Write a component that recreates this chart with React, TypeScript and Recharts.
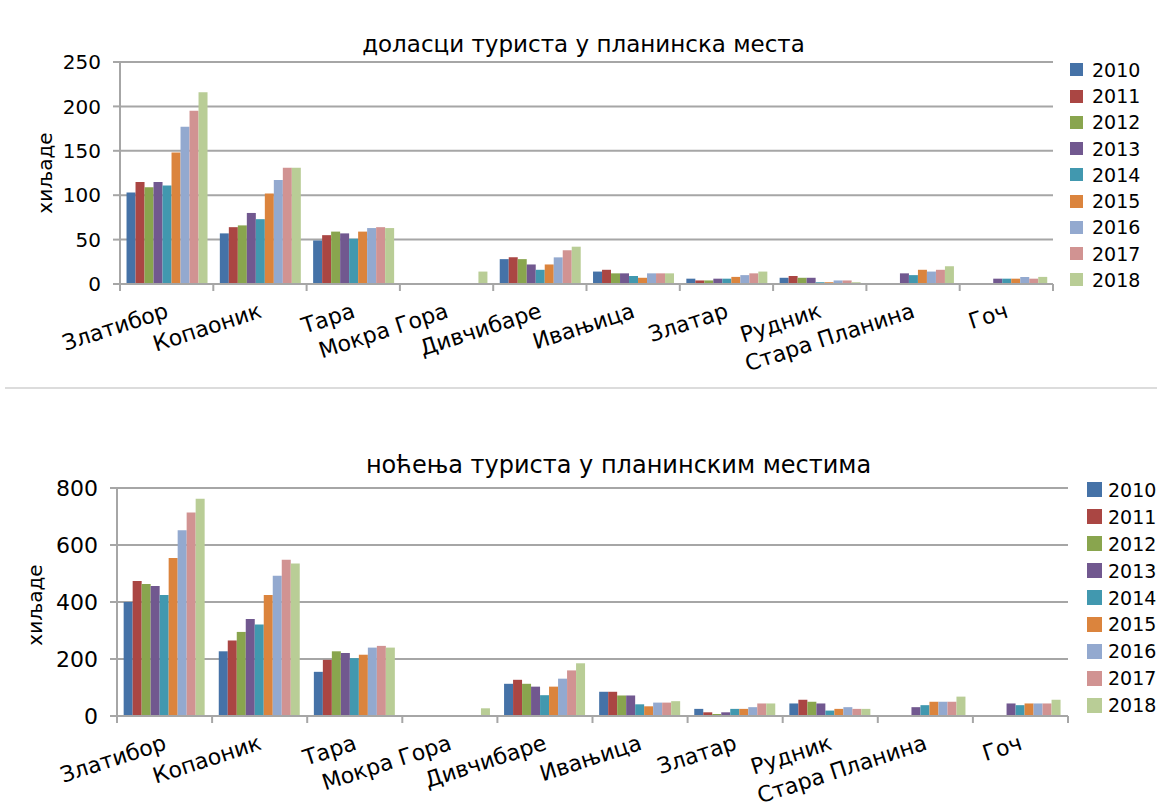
import React from "react";
import { BarChart, Bar, XAxis, YAxis, CartesianGrid } from "recharts";

const places = [
  "Златибор",
  "Копаоник",
  "Тара",
  "Мокра Гора",
  "Дивчибаре",
  "Ивањица",
  "Златар",
  "Рудник",
  "Стара Планина",
  "Гоч",
];

const years = ["2010", "2011", "2012", "2013", "2014", "2015", "2016", "2017", "2018"];
const colors = ["#4572A7", "#AA4643", "#89A54E", "#71588F", "#4198AF", "#DB843D", "#93A9CF", "#D19392", "#B9CD96"];

// доласци (хиљаде)
const arrivals2010 = [103, 57, 49, null, 28, 14, 6, 7, null, null];
const arrivals2011 = [115, 64, 55, null, 30, 16, 4, 9, null, null];
const arrivals2012 = [109, 66, 59, null, 28, 12, 4, 7, null, null];
const arrivals2013 = [115, 80, 57, null, 22, 12, 6, 7, 12, 6];
const arrivals2014 = [111, 73, 51, null, 16, 9, 6, 2, 10, 6];
const arrivals2015 = [148, 102, 59, null, 22, 7, 8, 2, 16, 6];
const arrivals2016 = [177, 117, 63, null, 30, 12, 10, 4, 14, 8];
const arrivals2017 = [195, 131, 64, null, 38, 12, 12, 4, 16, 6];
const arrivals2018 = [216, 131, 63, 14, 42, 12, 14, 2, 20, 8];

// ноћења (хиљаде)
const nights2010 = [400, 227, 155, null, 113, 85, 25, 44, null, null];
const nights2011 = [474, 265, 197, null, 127, 85, 13, 57, null, null];
const nights2012 = [463, 295, 227, null, 113, 72, 7, 50, null, null];
const nights2013 = [456, 340, 221, null, 103, 72, 13, 44, 31, 44];
const nights2014 = [425, 321, 203, null, 73, 41, 25, 19, 38, 38];
const nights2015 = [554, 425, 215, null, 103, 34, 25, 25, 50, 44];
const nights2016 = [652, 492, 240, null, 131, 47, 31, 31, 50, 44];
const nights2017 = [714, 548, 246, null, 160, 47, 44, 25, 50, 44];
const nights2018 = [762, 535, 240, 27, 185, 52, 44, 25, 68, 57];

const arrivalTicks = [0, 50, 100, 150, 200, 250];
const nightTicks = [0, 200, 400, 600, 800];

const arrivalSeries = [arrivals2010, arrivals2011, arrivals2012, arrivals2013, arrivals2014, arrivals2015, arrivals2016, arrivals2017, arrivals2018];
const nightSeries = [nights2010, nights2011, nights2012, nights2013, nights2014, nights2015, nights2016, nights2017, nights2018];

const toRows = (series: (number | null)[][]) =>
  places.map((place, i) => {
    const row: any = { place };
    years.forEach((y, k) => {
      row["y" + y] = series[k][i];
    });
    return row;
  });

const FONT = "'DejaVu Sans', sans-serif";
const GRID = "#a6a6a6";

const CategoryTick = (props: any) => {
  const { x, y, payload, index, bw, fontSize } = props;
  const left = x - bw / 2;
  return (
    <g>
      <line x1={left} x2={left} y1={y} y2={y + 7} stroke={GRID} strokeWidth={2} />
      {index === places.length - 1 && (
        <line x1={x + bw / 2} x2={x + bw / 2} y1={y} y2={y + 7} stroke={GRID} strokeWidth={2} />
      )}
      <text
        transform={`translate(${x + 3},${y + 33}) rotate(-18)`}
        textAnchor="end"
        fontSize={fontSize}
        fontFamily={FONT}
        fill="#000"
      >
        {payload.value}
      </text>
    </g>
  );
};

interface PanelProps {
  top: number;
  height: number;
  title: string;
  titleY: number;
  titleSize: number;
  series: (number | null)[][];
  ticks: number[];
  plot: { left: number; right: number; top: number; bottom: number };
  tickSize: number;
  labelX: number;
  labelY: number;
  legend: { x: number; y: number; step: number; box: number; size: number; gap: number };
}

const Panel = ({ top, height, title, titleY, titleSize, series, ticks, plot, tickSize, labelX, labelY, legend }: PanelProps) => {
  const width = 1157;
  const xAxisHeight = 60;
  const bw = (plot.right - plot.left) / places.length;
  const data = toRows(series);
  return (
    <div style={{ position: "absolute", left: 0, top, width, height }}>
      <div
        style={{
          position: "absolute",
          left: 0,
          width: 1157,
          top: titleY - top - titleSize * 0.65,
          textAlign: "center",
          fontFamily: FONT,
          fontSize: titleSize,
          lineHeight: `${titleSize * 1.3}px`,
          paddingLeft: title.length > 34 ? 80 : 10,
          boxSizing: "border-box",
        }}
      >
        {title}
      </div>
      <div
        style={{
          position: "absolute",
          left: labelX - 100,
          top: labelY - top - 14,
          width: 200,
          height: 28,
          textAlign: "center",
          lineHeight: "28px",
          fontFamily: FONT,
          fontSize: 20,
          transform: "rotate(-90deg)",
        }}
      >
        хиљаде
      </div>
      <div style={{ position: "absolute", left: 0, top: 0 }}>
        <BarChart
          width={width}
          height={height}
          data={data}
          margin={{
            top: plot.top - top,
            right: width - plot.right,
            bottom: top + height - plot.bottom - xAxisHeight,
            left: 0,
          }}
          barCategoryGap="7%"
          barGap={0}
        >
          <CartesianGrid vertical={false} stroke={GRID} strokeWidth={2} />
          <XAxis
            dataKey="place"
            interval={0}
            height={xAxisHeight}
            tickLine={false}
            tickSize={0}
            tickMargin={0}
            axisLine={{ stroke: GRID, strokeWidth: 2 }}
            tick={(p: any) => <CategoryTick {...p} bw={bw} fontSize={22} />}
          />
          <YAxis
            width={plot.left}
            domain={[ticks[0], ticks[ticks.length - 1]]}
            ticks={ticks}
            interval={0}
            tickSize={7}
            tickMargin={12}
            tickLine={{ stroke: GRID, strokeWidth: 2 }}
            axisLine={{ stroke: GRID, strokeWidth: 2 }}
            tick={{ fill: "#000", fontSize: tickSize, fontFamily: FONT }}
          />
          <YAxis
            yAxisId="border"
            orientation="right"
            width={0}
            domain={[0, 1]}
            tick={false}
            tickLine={false}
            axisLine={{ stroke: GRID, strokeWidth: 2 }}
          />
          {years.map((y, k) => (
            <Bar key={y} dataKey={"y" + y} fill={colors[k]} isAnimationActive={false} />
          ))}
        </BarChart>
      </div>
      {years.map((y, k) => (
        <div
          key={y}
          style={{
            position: "absolute",
            left: legend.x,
            top: legend.y - top + k * legend.step - legend.size * 0.65,
            height: legend.size * 1.3,
            display: "flex",
            alignItems: "center",
            fontFamily: FONT,
            fontSize: legend.size,
          }}
        >
          <span
            style={{
              display: "inline-block",
              width: legend.box,
              height: legend.box,
              background: colors[k],
              marginRight: legend.gap,
            }}
          />
          {y}
        </div>
      ))}
    </div>
  );
};

export default function App() {
  return (
    <div style={{ position: "absolute", left: 0, top: 0, width: 1157, height: 810, background: "#fff", overflow: "hidden" }}>
      <Panel
        top={0}
        height={385}
        title="доласци туриста у планинска места"
        titleY={45}
        titleSize={23}
        series={arrivalSeries}
        ticks={arrivalTicks}
        plot={{ left: 120, right: 1053, top: 62, bottom: 284 }}
        tickSize={20}
        labelX={45}
        labelY={173}
        legend={{ x: 1070, y: 70, step: 26.25, box: 13, size: 19, gap: 9 }}
      />
      <div style={{ position: "absolute", left: 5, top: 387, width: 1152, height: 2, background: "#dcdcdc" }} />
      <Panel
        top={400}
        height={410}
        title="ноћења туриста у планинским местима"
        titleY={466}
        titleSize={24}
        series={nightSeries}
        ticks={nightTicks}
        plot={{ left: 117, right: 1068, top: 488, bottom: 716 }}
        tickSize={22}
        labelX={35}
        labelY={605}
        legend={{ x: 1087, y: 490, step: 26.9, box: 15, size: 19, gap: 6 }}
      />
    </div>
  );
}
